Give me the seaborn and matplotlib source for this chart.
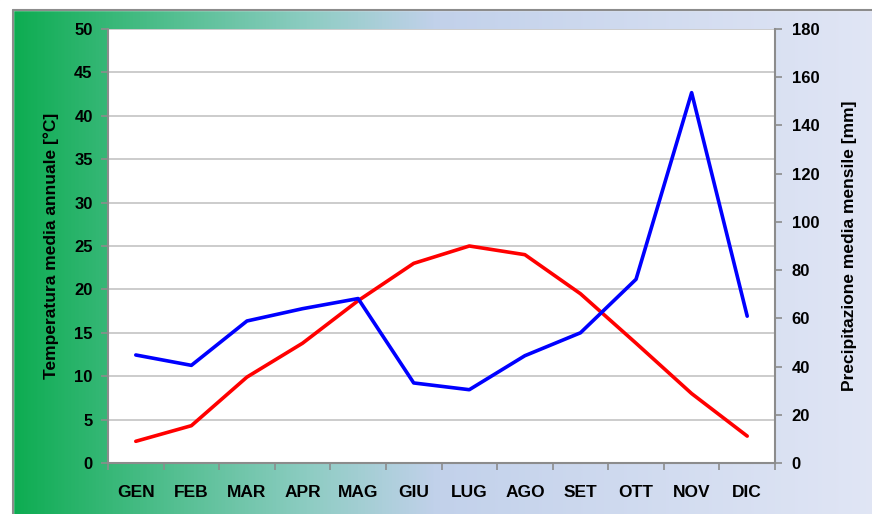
import numpy as np
import pandas as pd
import matplotlib
matplotlib.use("Agg")
from matplotlib import pyplot as plt
from matplotlib.colors import LinearSegmentedColormap
from matplotlib.patches import Rectangle
import seaborn as sns

months = ["GEN", "FEB", "MAR", "APR", "MAG", "GIU", "LUG", "AGO", "SET", "OTT", "NOV", "DIC"]
temperature = [2.5, 4.3, 9.9, 13.8, 18.7, 23.0, 25.0, 24.0, 19.5, 13.8, 8.0, 3.1]
precipitation = [44.8, 40.5, 58.9, 64.0, 68.2, 33.2, 30.4, 44.5, 54.0, 76.2, 153.6, 60.9]
temp_ticks = list(range(0, 51, 5))
prec_ticks = list(range(0, 181, 20))

sns.set_theme(style="white")
plt.rcParams["font.family"] = ["Liberation Sans", "DejaVu Sans"]
plt.rcParams["font.weight"] = "bold"
plt.rcParams["text.color"] = "black"
plt.rcParams["axes.labelcolor"] = "black"
plt.rcParams["xtick.labelcolor"] = "black"
plt.rcParams["ytick.labelcolor"] = "black"

df = pd.DataFrame({"mese": months, "temp": temperature, "prec": precipitation})

fig = plt.figure(figsize=(8.72, 5.14), dpi=100)

# background gradient with frame
bg = fig.add_axes([0, 0, 1, 1], zorder=-10)
bg.set_axis_off()
grad_cmap = LinearSegmentedColormap.from_list(
    "bg", [(0.0, (0.03, 0.67, 0.30)), (0.2, (0.33, 0.75, 0.57)),
           (0.35, (0.55, 0.80, 0.76)), (0.5, (0.76, 0.82, 0.92)),
           (1.0, (0.88, 0.90, 0.96))])
grad = np.linspace(0, 1, 512).reshape(1, -1)
bg.imshow(grad, aspect="auto", cmap=grad_cmap, extent=[0, 1, 0, 1])
bg.set_xlim(0, 1)
bg.set_ylim(0, 1)
bg.add_patch(Rectangle((0, 0), 13 / 872, 1, color="white", zorder=2))
bg.add_patch(Rectangle((0, 1 - 10 / 514), 1, 10 / 514, color="white", zorder=2))
bg.plot([13 / 872, 13 / 872], [0, 1 - 10 / 514], color="#8c8c8c", lw=1.5, zorder=3)
bg.plot([13 / 872, 1], [1 - 10 / 514, 1 - 10 / 514], color="#8c8c8c", lw=1.5, zorder=3)

ax = fig.add_axes([108 / 872, 51 / 514, 667 / 872, 434 / 514])
ax.set_facecolor("white")
sns.lineplot(data=df, x="mese", y="temp", ax=ax, color="#ff0000", lw=2.6, sort=False)
ax.set_ylim(0, 50)
ax.set_yticks(temp_ticks)
ax.set_xlim(-0.5, 11.5)
ax.set_xticks(range(len(months)))
ax.set_xticklabels(months)
ax.set_xticks(np.arange(-0.5, 12, 1), minor=True)
ax.tick_params(axis="x", which="major", length=0, pad=16, labelsize=12.5)
ax.tick_params(axis="x", which="minor", length=5, width=1.2, color="#8c8c8c", direction="out", bottom=True)
ax.tick_params(axis="y", length=5, width=1.2, color="#8c8c8c", direction="out", left=True, pad=6, labelsize=12)
for t in temp_ticks:
    ax.axhline(t, color="#c4c4c4", lw=1.2, zorder=0)
ax.set_xlabel("")
ax.set_ylabel("Temperatura media annuale [°C]", fontsize=12.5, fontweight="bold", labelpad=11)

ax2 = ax.twinx()
sns.lineplot(data=df, x="mese", y="prec", ax=ax2, color="#0000ff", lw=2.6, sort=False)
ax2.set_ylim(0, 180)
ax2.set_yticks(prec_ticks)
ax2.tick_params(axis="y", length=5, width=1.2, color="#8c8c8c", direction="out", right=True, pad=7, labelsize=12)
ax2.set_ylabel("Precipitazione media mensile [mm]", fontsize=12.5, fontweight="bold", labelpad=16)
ax2.set_xlabel("")

for a in (ax, ax2):
    a.spines["top"].set_visible(False)
    for s in ("left", "right", "bottom"):
        a.spines[s].set_color("#8c8c8c")
        a.spines[s].set_linewidth(1.5)
ax.spines["right"].set_visible(False)
ax2.spines["left"].set_visible(False)
ax2.spines["bottom"].set_visible(False)

for lbl in ax.get_xticklabels() + ax.get_yticklabels() + ax2.get_yticklabels():
    lbl.set_fontweight("bold")

fig.savefig("out.png", dpi=100)
